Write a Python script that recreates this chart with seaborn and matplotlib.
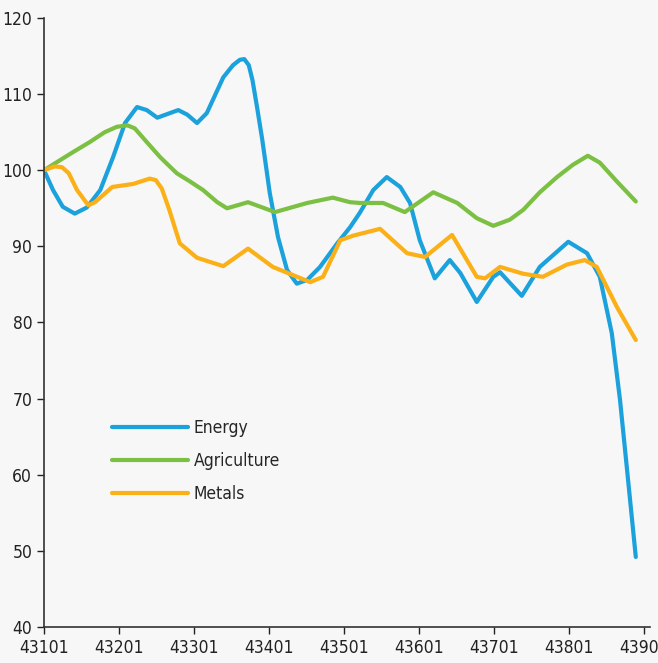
import pandas as pd
import numpy as np
import matplotlib
matplotlib.use("Agg")
import matplotlib.pyplot as plt
import seaborn as sns

# Valores (datas em número serial do Excel)
energy_x = [43101, 43113, 43126, 43142, 43158, 43176, 43193, 43209, 43225, 43238,
            43252, 43266, 43280, 43292, 43305, 43318, 43340, 43353, 43362, 43368,
            43374, 43379, 43385, 43392, 43402, 43413, 43425, 43438, 43452, 43469,
            43492, 43509, 43522, 43540, 43558, 43576, 43589, 43602, 43622, 43642,
            43656, 43678, 43700, 43709, 43738, 43762, 43800, 43825, 43842, 43858,
            43869, 43878, 43890]
energy_y = [100.0, 97.4, 95.2, 94.3, 95.1, 97.4, 101.7, 106.2, 108.3, 107.9,
            106.9, 107.4, 107.9, 107.3, 106.2, 107.5, 112.2, 113.8, 114.5, 114.6,
            113.8, 111.8, 108.3, 104.0, 97.0, 91.2, 86.9, 85.1, 85.6, 87.3,
            90.4, 92.5, 94.4, 97.4, 99.1, 97.8, 95.7, 90.8, 85.8, 88.2,
            86.5, 82.7, 86.0, 86.6, 83.5, 87.3, 90.6, 89.1, 86.0, 78.6,
            69.8, 61.0, 49.2]

agri_x = [43101, 43122, 43140, 43162, 43182, 43198, 43212, 43222, 43238, 43256,
          43278, 43296, 43313, 43332, 43345, 43373, 43409, 43452, 43486, 43509,
          43522, 43553, 43582, 43620, 43652, 43678, 43700, 43722, 43740, 43762,
          43785, 43806, 43826, 43842, 43865, 43890]
agri_y = [100.0, 101.3, 102.4, 103.7, 105.0, 105.7, 105.9, 105.5, 103.7, 101.7,
          99.6, 98.5, 97.4, 95.8, 95.0, 95.8, 94.5, 95.7, 96.4, 95.8,
          95.7, 95.7, 94.5, 97.1, 95.7, 93.7, 92.7, 93.5, 94.8, 97.1,
          99.1, 100.7, 101.9, 101.0, 98.5, 95.9]

metals_x = [43101, 43115, 43125, 43134, 43145, 43160, 43169, 43192, 43220, 43242,
            43250, 43258, 43268, 43282, 43305, 43340, 43373, 43406, 43456, 43473,
            43496, 43513, 43549, 43585, 43609, 43645, 43678, 43689, 43709, 43740,
            43766, 43798, 43822, 43838, 43865, 43890]
metals_y = [100.0, 100.5, 100.4, 99.6, 97.4, 95.4, 95.8, 97.8, 98.2, 98.9,
            98.7, 97.6, 94.8, 90.4, 88.5, 87.4, 89.7, 87.3, 85.3, 86.0,
            90.8, 91.4, 92.3, 89.1, 88.6, 91.5, 86.0, 85.8, 87.3, 86.4,
            86.0, 87.6, 88.2, 87.3, 82.0, 77.7]

series = ['Energy', 'Agriculture', 'Metals']
cores = ['#1ba1dc', '#7bc043', '#fbb017']
x_ticks = [43101, 43201, 43301, 43401, 43501, 43601, 43701, 43801, 43901]
y_ticks = [40, 50, 60, 70, 80, 90, 100, 110, 120]

df = pd.concat([
    pd.DataFrame({'data': energy_x, 'valor': energy_y, 'serie': 'Energy'}),
    pd.DataFrame({'data': agri_x, 'valor': agri_y, 'serie': 'Agriculture'}),
    pd.DataFrame({'data': metals_x, 'valor': metals_y, 'serie': 'Metals'}),
])

sns.set_style("ticks")
plt.rcParams['font.family'] = ['DejaVu Sans']
plt.rcParams['font.stretch'] = 'condensed'

fig = plt.figure(figsize=(6.58, 6.63), dpi=100, facecolor='#f7f7f7')
ax = fig.add_axes([0.0669, 0.0543, 0.921, 0.9186])
ax.set_facecolor('#f7f7f7')

sns.lineplot(data=df, x='data', y='valor', hue='serie', hue_order=series,
             palette=cores, linewidth=3, ax=ax, estimator=None)
for ln in ax.get_lines():
    ln.set_solid_joinstyle('round')
    ln.set_solid_capstyle('round')

ax.set_xlim(43101, 43909)
ax.set_ylim(40, 120)
ax.set_xticks(x_ticks)
ax.set_xticklabels([str(t) for t in x_ticks])
ax.set_yticks(y_ticks)
ax.set_xlabel('')
ax.set_ylabel('')
ax.tick_params(labelsize=12.5, colors='#222222', length=5, width=1)
for s in ['top', 'right']:
    ax.spines[s].set_visible(False)
for s in ['left', 'bottom']:
    ax.spines[s].set_color('#333333')
    ax.spines[s].set_linewidth(1.2)

leg = ax.legend(loc='center left', bbox_to_anchor=(0.112, 0.2726), frameon=False,
                fontsize=12.5, handlelength=4.4, handletextpad=0.3, labelspacing=0.85,
                borderpad=0, borderaxespad=0)
for h in leg.get_lines():
    h.set_linewidth(3)
    h.set_solid_capstyle('round')

fig.savefig('out.png', dpi=100, facecolor=fig.get_facecolor())
